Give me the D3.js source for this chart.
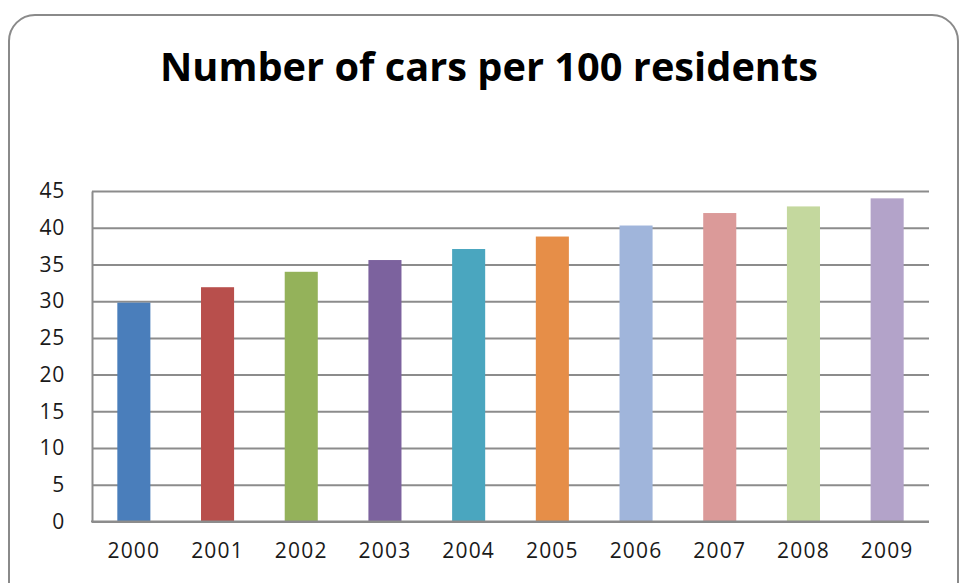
<!DOCTYPE html>
<html>
<head>
<meta charset="utf-8">
<script src="https://cdn.jsdelivr.net/npm/d3@7"></script>
<style>
  html, body { margin: 0; padding: 0; background: #ffffff; }
  svg { display: block; }
</style>
</head>
<body>
<svg id="chart" width="960" height="583"></svg>
<script>
const title = "Number of cars per 100 residents";
const years = ["2000", "2001", "2002", "2003", "2004", "2005", "2006", "2007", "2008", "2009"];
const carsPer100 = [29.8, 31.9, 34.0, 35.6, 37.1, 38.8, 40.3, 42.0, 42.9, 44.0];
const barColors = ["#4A7EBB", "#B84F4C", "#94B25A", "#7C629E", "#4AA6BF", "#E68E48", "#A0B5DB", "#DB9A99", "#C4D89E", "#B3A3C9"];
const yTicks = [0, 5, 10, 15, 20, 25, 30, 35, 40, 45];

const svg = d3.select("#chart");
const fontFamily = "'Open Sans', 'Liberation Sans', sans-serif";

// chart border (rounded frame)
svg.append("rect")
  .attr("x", 9).attr("y", 15)
  .attr("width", 949).attr("height", 620)
  .attr("rx", 26).attr("ry", 26)
  .attr("fill", "#ffffff")
  .attr("stroke", "#8a8a8a")
  .attr("stroke-width", 2);

// title
svg.append("text")
  .attr("x", 489).attr("y", 81)
  .attr("text-anchor", "middle")
  .attr("font-family", fontFamily)
  .attr("font-weight", "bold")
  .attr("font-size", 40)
  .attr("textLength", 658)
  .attr("lengthAdjust", "spacingAndGlyphs")
  .attr("fill", "#000000")
  .text(title);

const plot = { left: 92, right: 929, top: 191, bottom: 521.5 };

const x = d3.scaleBand()
  .domain(years)
  .range([plot.left, plot.right])
  .paddingInner(0.605)
  .paddingOuter(0.3025);

const y = d3.scaleLinear()
  .domain([0, 45])
  .range([plot.bottom, plot.top]);

// gridlines
const grid = svg.append("g")
  .attr("transform", `translate(${plot.left},0)`)
  .call(d3.axisLeft(y).tickValues(yTicks).tickSize(-(plot.right - plot.left)).tickFormat(""));
grid.select(".domain").remove();
grid.selectAll(".tick line").attr("stroke", "#8c8c8c").attr("stroke-width", 2);

// bars
svg.append("g")
  .selectAll("rect")
  .data(years.map((yr, i) => ({ yr, v: carsPer100[i], c: barColors[i] })))
  .join("rect")
  .attr("x", d => x(d.yr))
  .attr("y", d => y(d.v))
  .attr("width", x.bandwidth())
  .attr("height", d => y(0) - y(d.v))
  .attr("fill", d => d.c);

// y axis
const yAxis = svg.append("g")
  .attr("transform", `translate(${plot.left},0)`)
  .call(d3.axisLeft(y).tickValues(yTicks).tickSize(0).tickPadding(27));
yAxis.select(".domain").attr("stroke", "#8c8c8c").attr("stroke-width", 2);
yAxis.selectAll("text")
  .attr("font-family", fontFamily)
  .attr("font-size", 21)
  .attr("letter-spacing", 0.8)
  .attr("fill", "#1a1a1a");

// x axis
const xAxis = svg.append("g")
  .attr("transform", `translate(0,${plot.bottom})`)
  .call(d3.axisBottom(x).tickSize(0).tickPadding(22));
xAxis.select(".domain").attr("stroke", "#8c8c8c").attr("stroke-width", 2)
  .attr("d", `M${plot.left - 1},0H${plot.right}`);
xAxis.selectAll("text")
  .attr("font-family", fontFamily)
  .attr("font-size", 21)
  .attr("letter-spacing", 1.2)
  .attr("fill", "#1a1a1a");
</script>
</body>
</html>
